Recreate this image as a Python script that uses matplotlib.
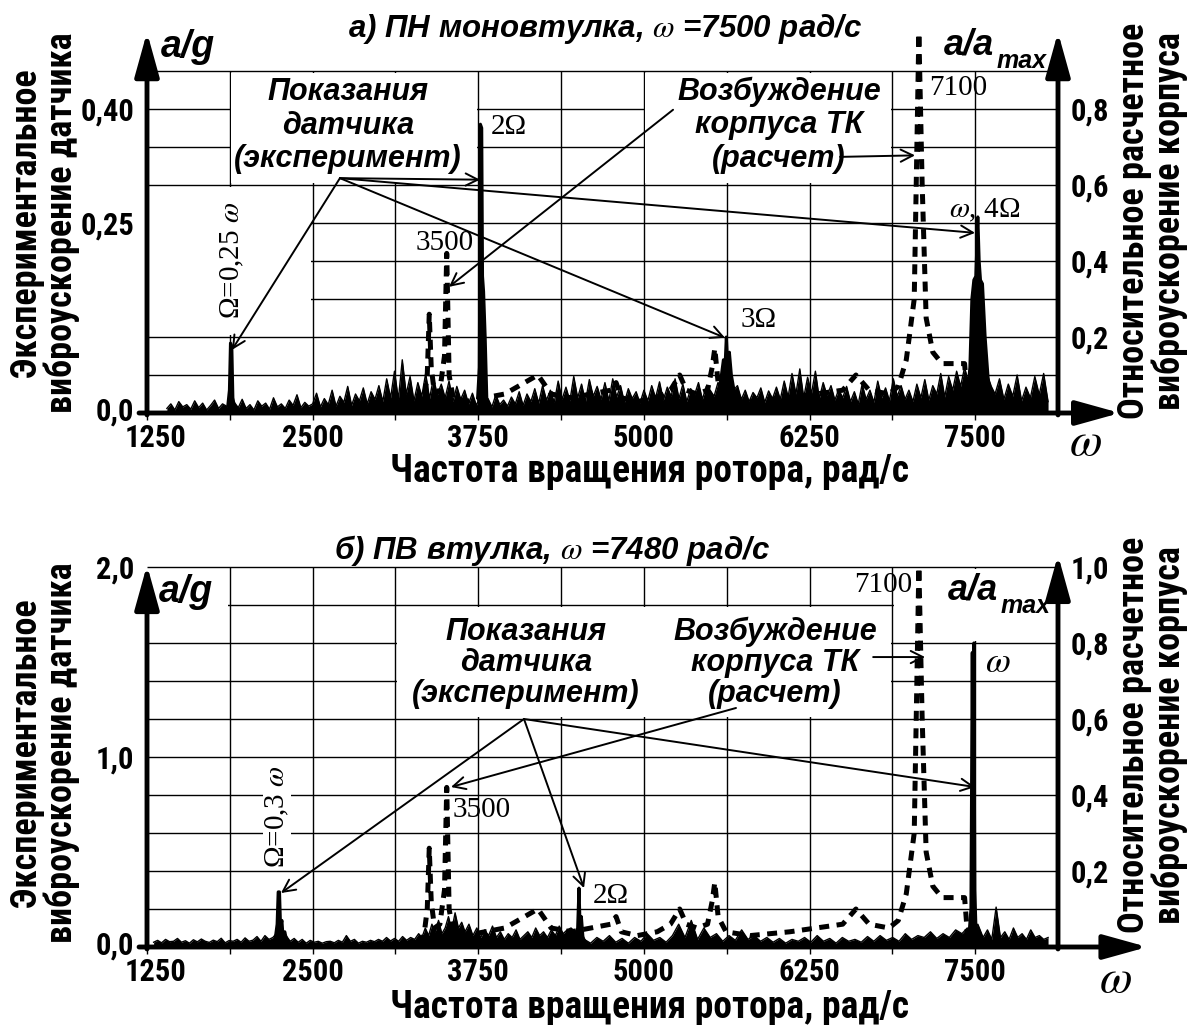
import numpy as np
import matplotlib
matplotlib.use("Agg")
import matplotlib.pyplot as plt
from matplotlib import font_manager
from matplotlib.patches import Rectangle
from matplotlib.transforms import ScaledTranslation

plt.rcParams['font.family'] = ['Liberation Sans', 'DejaVu Sans']
plt.rcParams['mathtext.fontset'] = 'stix'

# condensed face for axis numbers and axis titles (the source uses Arial Narrow)
installed = {f.name for f in font_manager.fontManager.ttflist}
NARROW = next((n for n in ['Liberation Sans Narrow', 'Arial Narrow', 'Roboto Condensed',
                           'PT Sans Narrow', 'Liberation Sans'] if n in installed))

W, H = 1189, 1025

# ---------------- data ----------------
# а) ПН моновтулка: measured a/g, noise floor in segments
top_noise_edges = [1400, 1850, 2500, 3000, 3500, 4000, 4500, 5000, 5500, 6000, 6500, 7000, 7450, 7650, 8050]
top_noise = [
    [0.006, 0.012, 0.004, 0.015, 0.008, 0.011, 0.005, 0.016, 0.007, 0.013, 0.004, 0.010, 0.017, 0.006, 0.012],
    [0.009, 0.005, 0.014, 0.007, 0.018, 0.006, 0.011, 0.004, 0.016, 0.009, 0.013, 0.005, 0.020, 0.008, 0.012,
     0.006, 0.017, 0.010, 0.024, 0.007, 0.014, 0.009],
    [0.012, 0.026, 0.008, 0.019, 0.011, 0.030, 0.009, 0.022, 0.014, 0.035, 0.010, 0.025, 0.016, 0.033, 0.012, 0.028, 0.018],
    [0.036, 0.015, 0.045, 0.020, 0.055, 0.018, 0.070, 0.025, 0.048, 0.016, 0.040, 0.022, 0.052, 0.019, 0.046, 0.024, 0.038],
    [0.020, 0.042, 0.015, 0.035, 0.018, 0.030, 0.012, 0.026, 0.010, 0.022, 0.014, 0.019, 0.008, 0.024, 0.011, 0.017, 0.009],
    [0.021, 0.012, 0.028, 0.010, 0.025, 0.015, 0.032, 0.013, 0.036, 0.017, 0.030, 0.014, 0.042, 0.018, 0.034, 0.016, 0.048],
    [0.020, 0.038, 0.015, 0.044, 0.022, 0.035, 0.018, 0.040, 0.016, 0.045, 0.021, 0.036, 0.014, 0.032, 0.019, 0.028, 0.013],
    [0.030, 0.016, 0.036, 0.020, 0.041, 0.017, 0.034, 0.022, 0.045, 0.019, 0.038, 0.015, 0.032, 0.024, 0.040, 0.018, 0.035],
    [0.030, 0.022, 0.040, 0.035, 0.045, 0.040, 0.030, 0.036, 0.018, 0.030, 0.015, 0.027, 0.020, 0.033, 0.014, 0.029, 0.019],
    [0.034, 0.018, 0.042, 0.021, 0.052, 0.025, 0.058, 0.020, 0.047, 0.026, 0.055, 0.019, 0.040, 0.023, 0.036, 0.017, 0.031],
    [0.020, 0.035, 0.015, 0.028, 0.012, 0.038, 0.018, 0.030, 0.014, 0.042, 0.020, 0.033, 0.016, 0.045, 0.022, 0.036, 0.018],
    [0.030, 0.015, 0.038, 0.020, 0.044, 0.017, 0.036, 0.025, 0.052, 0.021, 0.048, 0.030, 0.055, 0.035, 0.060],
    [0.040, 0.060, 0.080, 0.070, 0.060, 0.050, 0.035],
    [0.025, 0.045, 0.018, 0.038, 0.022, 0.050, 0.016, 0.034, 0.020, 0.048, 0.024, 0.052, 0.015],
]
# harmonics Ω, 2Ω, 3Ω, ω(4Ω)
top_peak_freq = [
    [1860, 1872, 1880, 1890, 1898, 1910],
    [3745, 3758, 3766, 3776, 3782, 3790, 3802, 3815],
    [5560, 5585, 5600, 5612, 5622, 5632, 5645, 5660, 5680, 5700],
    [7440, 7460, 7475, 7490, 7505, 7520, 7530, 7540, 7555, 7575, 7600, 7620],
]
top_peak_amp = [
    [0.010, 0.030, 0.092, 0.088, 0.020, 0.008],
    [0.020, 0.060, 0.380, 0.375, 0.180, 0.160, 0.100, 0.015],
    [0.020, 0.050, 0.070, 0.060, 0.100, 0.065, 0.080, 0.050, 0.030, 0.015],
    [0.020, 0.060, 0.150, 0.175, 0.180, 0.258, 0.200, 0.175, 0.170, 0.100, 0.040, 0.015],
]

# б) ПВ втулка: measured a/g
bot_noise_edges = [1300, 2200, 2300, 3300, 3650, 4450, 4550, 7400, 7560, 8050]
bot_noise = [
    [0.025, 0.035, 0.022, 0.040, 0.028, 0.030, 0.045, 0.025, 0.033, 0.020, 0.038, 0.027, 0.042, 0.030, 0.024,
     0.036, 0.028, 0.046, 0.022, 0.034, 0.030, 0.040, 0.025, 0.048, 0.030, 0.036, 0.055, 0.030, 0.060, 0.040],
    [0.05, 0.07, 0.08, 0.06],
    [0.060, 0.030, 0.045, 0.025, 0.040, 0.020, 0.035, 0.025, 0.030, 0.020, 0.028, 0.030, 0.022, 0.035, 0.025,
     0.060, 0.030, 0.040, 0.020, 0.030, 0.025, 0.035, 0.028, 0.040, 0.030, 0.050, 0.032, 0.045, 0.030, 0.055,
     0.035, 0.050, 0.040],
    [0.07, 0.05, 0.10, 0.06, 0.12, 0.08, 0.14, 0.07, 0.10, 0.16, 0.09, 0.18, 0.10, 0.13],
    [0.08, 0.12, 0.06, 0.10, 0.05, 0.09, 0.06, 0.11, 0.05, 0.08, 0.04, 0.07, 0.05, 0.09, 0.04,
     0.06, 0.08, 0.05, 0.10, 0.06, 0.08, 0.05, 0.09, 0.06, 0.11, 0.07, 0.09],
    [0.10, 0.08, 0.12],
    [0.040, 0.020, 0.050, 0.030, 0.060, 0.025, 0.045, 0.020, 0.050, 0.030, 0.070, 0.035, 0.050, 0.025, 0.060,
     0.120, 0.050, 0.140, 0.040, 0.100, 0.050, 0.070, 0.030, 0.060, 0.035, 0.090, 0.040, 0.060, 0.030, 0.050,
     0.025, 0.045, 0.020, 0.040, 0.030, 0.050, 0.025, 0.060, 0.030, 0.045, 0.020, 0.050, 0.030, 0.040, 0.025,
     0.055, 0.030, 0.060, 0.035, 0.050, 0.030, 0.070, 0.040, 0.060, 0.050, 0.080, 0.045, 0.070, 0.050, 0.090],
    [0.07, 0.10, 0.08, 0.12],
    [0.05, 0.09, 0.04, 0.21, 0.05, 0.08, 0.04, 0.10, 0.05, 0.07, 0.04, 0.09, 0.05, 0.06, 0.04, 0.05],
]
bot_peak_freq = [
    [2215, 2232, 2240, 2250, 2258, 2268, 2276, 2290, 2305],
    [4485, 4500, 4510, 4518, 4528, 4540, 4555],
    [7430, 7455, 7468, 7478, 7484, 7490, 7497, 7505, 7520, 7545],
]
bot_peak_amp = [
    [0.03, 0.12, 0.29, 0.29, 0.10, 0.14, 0.06, 0.08, 0.03],
    [0.03, 0.10, 0.31, 0.12, 0.16, 0.05, 0.03],
    [0.03, 0.08, 0.20, 1.55, 0.60, 1.60, 0.30, 0.12, 0.05, 0.03],
]

# calculated housing excitation a/a_max (same on both panels)
calc_freq = [3300, 3340, 3365, 3380, 3395, 3420, 3460, 3495, 3512, 3530, 3560, 3650, 3800, 3950, 4100,
             4200, 4300, 4450, 4600, 4750, 4790, 4830, 4950, 5100, 5200, 5270, 5320, 5400, 5480, 5515,
             5535, 5560, 5620, 5800, 5950, 6100, 6300, 6500, 6600, 6700, 6850, 6920, 6980, 7040, 7075,
             7100, 7130, 7180, 7250, 7350, 7420, 7445]
calc_amp = [0.01, 0.03, 0.10, 0.26, 0.12, 0.05, 0.06, 0.15, 0.42, 0.10, 0.04, 0.03, 0.04, 0.05, 0.08,
            0.10, 0.05, 0.04, 0.05, 0.06, 0.08, 0.04, 0.03, 0.04, 0.06, 0.10, 0.06, 0.05, 0.06, 0.12,
            0.17, 0.08, 0.04, 0.03, 0.035, 0.04, 0.05, 0.06, 0.10, 0.06, 0.05, 0.07, 0.14, 0.30, 1.0,
            0.60, 0.25, 0.16, 0.13, 0.13, 0.13, 0.02]

x_major = [1250, 2500, 3750, 5000, 6250, 7500]
x_minor = [1875, 3125, 4375, 5625, 6875]


def build(edges, segs):
    xs = []
    for i, seg in enumerate(segs):
        xs.append(np.linspace(edges[i], edges[i + 1], len(seg), endpoint=(i == len(segs) - 1)))
    return np.concatenate(xs), np.concatenate(segs)


fig = plt.figure(figsize=(W / 100, H / 100), dpi=100)

nb = dict(family=[NARROW, 'DejaVu Sans'], fontweight='bold')
bi = dict(fontweight='bold', fontstyle='italic')
serif = dict(family='Liberation Serif', fontsize=21)
axis_arrow = dict(arrowstyle='-|>,head_length=0.9,head_width=0.25', lw=3.5, color='k',
                  mutation_scale=30, shrinkA=0, shrinkB=0)
thin_arrow = dict(arrowstyle='->', lw=1.4, color='k', mutation_scale=22, shrinkA=0, shrinkB=0)


def nudge(label, dx_px, dy_px):
    label.set_transform(label.get_transform() +
                        ScaledTranslation(dx_px / 100, dy_px / 100, fig.dpi_scale_trans))


def make_panel(y_bot, y_top, ymax, ratio, grid_top, grid_step, blanks, ytips, xtip):
    ax = fig.add_axes([147 / W, 1 - y_bot / H, 911 / W, (y_bot - y_top) / H])
    ax2 = ax.twinx()
    ax.set_xlim(1250, 8125)
    ax.set_ylim(0, ymax)
    ax2.set_ylim(0, ymax / ratio)
    for a in (ax, ax2):
        for s in a.spines.values():
            s.set_visible(False)
    # table-like grid with blank cells
    gx = x_minor + x_major[1:]
    ax.vlines(gx, 0, grid_top, color='k', lw=1.0, zorder=1)
    gy = np.arange(1, int(round(grid_top / grid_step)) + 1) * grid_step
    ax.hlines(gy, 1250, 8125, color='k', lw=1.0, zorder=1)
    ex, ey = 12, ymax * 0.004
    for xa, ya, xb, yb in blanks:
        ax.add_patch(Rectangle((xa + ex, ya + ey), xb - xa - 2 * ex, yb - ya - 2 * ey,
                               fc='white', ec='none', zorder=1.5))
    # thick axes with arrow heads
    ax.annotate('', xy=(1250, ytips[0]), xytext=(1250, -ymax * 0.005), arrowprops=axis_arrow,
                annotation_clip=False, zorder=6)
    ax.annotate('', xy=(8125, ytips[1]), xytext=(8125, -ymax * 0.005), arrowprops=axis_arrow,
                annotation_clip=False, zorder=6)
    ax.annotate('', xy=(xtip, 0), xytext=(1190, 0), arrowprops=axis_arrow,
                annotation_clip=False, zorder=6)
    ax.set_xticks(x_major)
    ax.set_xticklabels([str(v) for v in x_major], fontsize=22, **nb)
    ax.set_xticks(x_minor, minor=True)
    ax.tick_params(axis='x', which='both', direction='out', length=5, width=1, pad=2)
    ax.tick_params(axis='y', length=0, pad=9)
    ax2.tick_params(axis='y', length=0, pad=9)
    nudge(ax.get_xticklabels()[0], 9, 0)
    return ax, ax2


def draw_exp(ax, edges, segs, pf, pa):
    x, y = build(edges, segs)
    ax.fill_between(x, 0, y, color='k', lw=0, zorder=3)
    ax.plot(x, y, color='k', lw=1.0, zorder=3)
    for f, a in zip(pf, pa):
        ax.fill_between(f, 0, a, color='k', lw=0, zorder=3)
        ax.plot(f, a, color='k', lw=2.2, zorder=3)


def draw_calc(ax2):
    ax2.plot(calc_freq, calc_amp, color='k', lw=3.6, ls=(0, (2.0, 1.5)), zorder=4)


def side_labels(y_left, y_right, y_xlabel, x_omega, y_omega):
    fig.text(44 / W, 1 - y_left / H, 'Экспериментальное\nвиброускорение датчика', rotation=90,
             fontsize=26, ha='center', va='center', linespacing=1.0, **nb)
    fig.text(1152 / W, 1 - y_right / H, 'Относительное расчетное\nвиброускорение корпуса', rotation=90,
             fontsize=26, ha='center', va='center', linespacing=1.0, **nb)
    fig.text(650 / W, 1 - y_xlabel / H, 'Частота вращения ротора, рад/с', fontsize=27,
             ha='center', va='center', **nb)
    fig.text(x_omega / W, 1 - y_omega / H, '$\\omega$', fontsize=34, ha='center', va='center')


# ---------------- panel a ----------------
ax, ax2 = make_panel(413, 32, 381 / 760, 0.5, 0.45, 0.05,
                     [(1875, 0.30, 3750, 0.45), (5000, 0.30, 6875, 0.45), (1250, 0.10, 2500, 0.30)],
                     (0.501, 0.501), 8593)
draw_exp(ax, top_noise_edges, top_noise, top_peak_freq, top_peak_amp)
draw_calc(ax2)
ax.set_yticks([0, 0.25, 0.40])
ax.set_yticklabels(['0,0', '0,25', '0,40'], fontsize=22, **nb)
nudge(ax.get_yticklabels()[0], 0, 4)
ax2.set_yticks([0.2, 0.4, 0.6, 0.8])
ax2.set_yticklabels(['0,2', '0,4', '0,6', '0,8'], fontsize=22, **nb)

ax.text(1559, 0.482, 'a/g', fontsize=27, ha='center', va='center', **bi)
ax.text(2767, 0.378, 'Показания\nдатчика\n(эксперимент)', fontsize=22, ha='center', va='center',
        linespacing=1.15, zorder=5, **bi)
ax.text(6020, 0.379, 'Возбуждение\nкорпуса ТК\n(расчет)', fontsize=22, ha='center', va='center',
        linespacing=1.15, zorder=5, **bi)
src = (2706, 0.309)
for tgt in [(1891, 0.083), (3763, 0.307), (5612, 0.099), (7499, 0.237)]:
    ax.annotate('', xy=tgt, xytext=src, arrowprops=thin_arrow, zorder=5)
ax.annotate('', xy=(7046, 0.339), xytext=(6480, 0.337), arrowprops=thin_arrow, zorder=5)
ax.annotate('', xy=(3529, 0.166), xytext=(5220, 0.399), arrowprops=thin_arrow, zorder=5)
ax.text(3499, 0.224, '3500', ha='center', va='center', zorder=5, **serif)
ax.text(3846, 0.376, '2Ω', ha='left', va='center', zorder=5, **serif)
ax.text(1891, 0.201, 'Ω=0,25 $\\omega$', rotation=90, ha='center', va='center', zorder=5, **serif)
ax.text(5869, 0.122, '3Ω', ha='center', va='center', zorder=5, **serif)
ax.text(7574, 0.267, '$\\omega$, 4Ω', ha='center', va='center', zorder=5, **serif)
ax.text(7370, 0.428, '7100', ha='center', va='center', zorder=5, **serif)

fig.text(605 / W, 1 - 29 / H, 'а) ПН моновтулка, $\\omega$ =7500 рад/с', fontsize=22.5,
         ha='center', va='center', **bi)
fig.text(944 / W, 1 - 45 / H, 'a/a', fontsize=26, ha='left', va='center', **bi)
fig.text(997 / W, 1 - 61 / H, 'max', fontsize=18, ha='left', va='center', **bi)
side_labels(223, 221, 472, 1085, 443)

# ---------------- panel b ----------------
bx, bx2 = make_panel(947, 555, 392 / 190, 2.0, 2.0, 0.2,
                     [(1250, 1.6, 1875, 2.0), (3125, 1.2, 6875, 1.8), (6875, 1.6, 8125, 2.0)],
                     (2.01, 2.063), 8800)
draw_exp(bx, bot_noise_edges, bot_noise, bot_peak_freq, bot_peak_amp)
draw_calc(bx2)
bx.set_yticks([0, 1.0, 2.0])
bx.set_yticklabels(['0,0', '1,0', '2,0'], fontsize=22, **nb)
nudge(bx.get_yticklabels()[0], 0, 4)
bx2.set_yticks([0.2, 0.4, 0.6, 0.8, 1.0])
bx2.set_yticklabels(['0,2', '0,4', '0,6', '0,8', '1,0'], fontsize=22, **nb)

bx.text(1544, 1.87, 'a/g', fontsize=27, ha='center', va='center', **bi)
bx.text(4110, 1.495, 'Показания\nдатчика\n(эксперимент)', fontsize=22, ha='center', va='center',
        linespacing=1.05, zorder=5, **bi)
bx.text(5990, 1.495, 'Возбуждение\nкорпуса ТК\n(расчет)', fontsize=22, ha='center', va='center',
        linespacing=1.05, zorder=5, **bi)
src = (4095, 1.2)
for tgt in [(2261, 0.284), (4548, 0.31), (7499, 0.842)]:
    bx.annotate('', xy=tgt, xytext=src, arrowprops=thin_arrow, zorder=5)
bx.annotate('', xy=(3544, 0.842), xytext=(5695, 1.258), arrowprops=thin_arrow, zorder=5)
bx.annotate('', xy=(7122, 1.526), xytext=(6730, 1.526), arrowprops=thin_arrow, zorder=5)
bx.text(3559, 0.72, '3500', ha='left', va='center', zorder=5, **serif)
bx.text(2231, 0.684, 'Ω=0,3 $\\omega$', rotation=90, ha='center', va='center', zorder=5,
        bbox=dict(fc='white', ec='none', pad=0.5), **serif)
bx.text(4616, 0.27, '2Ω', ha='left', va='center', zorder=5, **serif)
bx.text(7672, 1.5, '$\\omega$', ha='center', va='center', zorder=5, fontsize=26)
bx.text(6804, 1.905, '7100', ha='center', va='center', zorder=5, **serif)

fig.text(552 / W, 1 - 550 / H, 'б) ПВ втулка, $\\omega$ =7480 рад/с', fontsize=22.5,
         ha='center', va='center', **bi)
fig.text(948 / W, 1 - 590 / H, 'a/a', fontsize=26, ha='left', va='center', **bi)
fig.text(1001 / W, 1 - 606 / H, 'max', fontsize=18, ha='left', va='center', **bi)
side_labels(753, 735, 1007, 1115, 980)

fig.savefig('out.png', dpi=100)
